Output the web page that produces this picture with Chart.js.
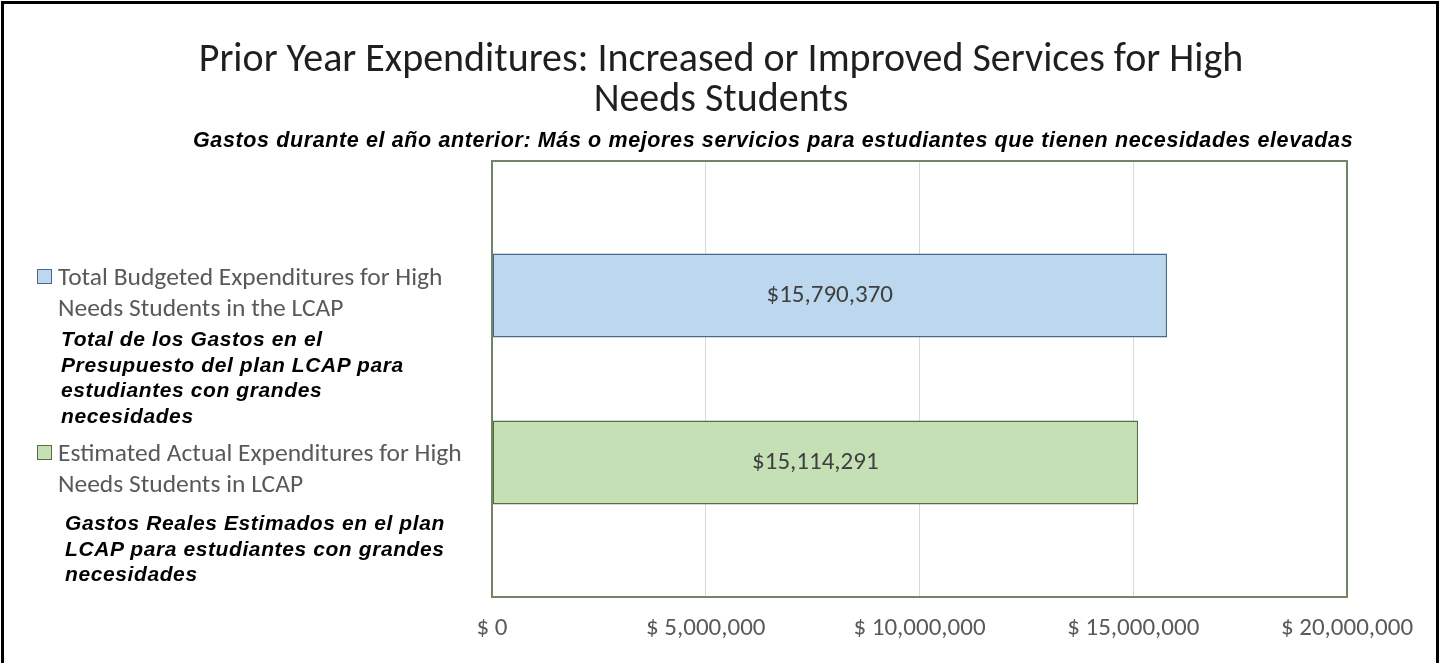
<!DOCTYPE html>
<html>
<head>
<meta charset="utf-8">
<script src="https://cdn.jsdelivr.net/npm/chart.js@4.4.1/dist/chart.umd.min.js"></script>
<style>
	html, body { margin: 0; padding: 0; background: #fff; }
	#wrap { position: relative; width: 1442px; height: 663px; overflow: hidden; }
	#frame { position: absolute; left: 1px; top: 1px; width: 1438px; height: 700px; border: 3px solid #000; box-sizing: border-box; pointer-events: none; }
	#chart { position: absolute; left: 0; top: 0; }
	.t-title { position: absolute; left: 0; width: 1442px; text-align: center; font-family: Calibri, Carlito, 'Open Sans', sans-serif; font-size: 40px; line-height: 40px; color: #1f1f1f; }
	.t-sub { position: absolute; left: 193px; white-space: nowrap; font-family: 'Liberation Sans', Arial, sans-serif; font-weight: bold; font-style: italic; font-size: 21.5px; letter-spacing: 0.62px; color: #000; }
	.lg-box { position: absolute; width: 15px; height: 15px; box-sizing: border-box; border: 1.5px solid; }
	.lg-en { position: absolute; font-family: Calibri, Carlito, 'Open Sans', sans-serif; font-size: 25.5px; line-height: 31px; color: #595959; white-space: nowrap; }
	.lg-es { position: absolute; font-family: 'Liberation Sans', Arial, sans-serif; font-weight: bold; font-style: italic; font-size: 21px; letter-spacing: 0.6px; line-height: 25.5px; color: #000; white-space: nowrap; }
</style>
</head>
<body>
<div id="wrap">
	<canvas id="chart" width="1442" height="663"></canvas>
	<div class="t-title" id="title" style="top:38px"></div>
	<div class="t-sub" id="subtitle" style="top:128px"></div>
	<div id="legend"></div>
	<div id="frame"></div>
</div>
<script>
// ── DATA ──
var categories = [''];
var seriesLabels = [
	['Total Budgeted Expenditures for High', 'Needs Students in the LCAP'],
	['Estimated Actual Expenditures for High', 'Needs Students in LCAP']
];
var seriesLabelsEs = [
	['Total de los Gastos en el', 'Presupuesto del plan LCAP para', 'estudiantes con grandes', 'necesidades'],
	['Gastos Reales Estimados en el plan', 'LCAP para estudiantes con grandes', 'necesidades']
];
var budgeted = [15790370];
var estimatedActual = [15114291];
var xTicks = [0, 5000000, 10000000, 15000000, 20000000];
var titleLines = ['Prior Year Expenditures: Increased or Improved Services for High', 'Needs Students'];
var subtitleText = 'Gastos durante el año anterior: Más o mejores servicios para estudiantes que tienen necesidades elevadas';

var fills = ['#BDD7EE', '#C5E0B4'];
var borders = ['#46698C', '#55703F'];

document.getElementById('title').innerHTML = titleLines.join('<br>');
document.getElementById('subtitle').textContent = subtitleText;

// ── LEFT LEGEND ──
var legendPos = [
	{ box: 269, en: 261, es: 326, esLeft: 61 },
	{ box: 445, en: 437, es: 510, esLeft: 65 }
];
var lgHtml = '';
seriesLabels.forEach(function (lines, i) {
	var p = legendPos[i];
	lgHtml += '<div class="lg-box" style="left:37px;top:' + p.box + 'px;background:' + fills[i] + ';border-color:' + borders[i] + '"></div>';
	lgHtml += '<div class="lg-en" style="left:58px;top:' + p.en + 'px">' + lines.join('<br>') + '</div>';
	lgHtml += '<div class="lg-es" style="left:' + p.esLeft + 'px;top:' + p.es + 'px">' + seriesLabelsEs[i].join('<br>') + '</div>';
});
document.getElementById('legend').innerHTML = lgHtml;

function money(v) {
	return '$' + Number(v).toLocaleString('en-US');
}

var plotBorder = {
	id: 'plotBorder',
	afterDatasetsDraw: function (chart) {
		var a = chart.chartArea, c = chart.ctx;
		c.save();
		c.strokeStyle = '#738365';
		c.lineWidth = 2;
		c.strokeRect(a.left, a.top, a.right - a.left, a.bottom - a.top);
		c.restore();
	}
};

var barLabels = {
	id: 'barLabels',
	afterDatasetsDraw: function (chart) {
		var c = chart.ctx;
		c.save();
		c.font = '25px Calibri, Carlito, "Open Sans", sans-serif';
		c.fillStyle = '#404040';
		c.textAlign = 'center';
		c.textBaseline = 'middle';
		chart.data.datasets.forEach(function (ds, di) {
			chart.getDatasetMeta(di).data.forEach(function (bar, j) {
				c.fillText(money(ds.data[j]), (bar.x + bar.base) / 2, bar.y);
			});
		});
		c.restore();
	}
};

new Chart(document.getElementById('chart'), {
	type: 'bar',
	data: {
		labels: categories,
		datasets: [
			{ label: seriesLabels[0].join(' '), data: budgeted, backgroundColor: fills[0], borderColor: borders[0], borderWidth: 1.5, borderSkipped: false },
			{ label: seriesLabels[1].join(' '), data: estimatedActual, backgroundColor: fills[1], borderColor: borders[1], borderWidth: 1.5, borderSkipped: false }
		]
	},
	options: {
		indexAxis: 'y',
		responsive: false,
		animation: false,
		devicePixelRatio: 1,
		categoryPercentage: 0.766,
		barPercentage: 0.503,
		layout: { padding: { left: 492, right: 95, top: 161, bottom: 6 } },
		plugins: { legend: { display: false }, title: { display: false }, tooltip: { enabled: false } },
		scales: {
			x: {
				min: 0, max: 20000000,
				afterBuildTicks: function (scale) { scale.ticks = xTicks.map(function (v) { return { value: v }; }); },
				afterFit: function (scale) { scale.height = 60; },
				grid: { color: '#D9D9D9', lineWidth: 1, drawTicks: false },
				border: { display: false },
				ticks: {
					padding: 17,
					maxRotation: 0,
					color: '#595959',
					font: { family: 'Calibri, Carlito, "Open Sans", sans-serif', size: 25 },
					callback: function (v) { return '$ ' + Number(v).toLocaleString('en-US'); }
				}
			},
			y: { display: false }
		}
	},
	plugins: [plotBorder, barLabels]
});
</script>
</body>
</html>
